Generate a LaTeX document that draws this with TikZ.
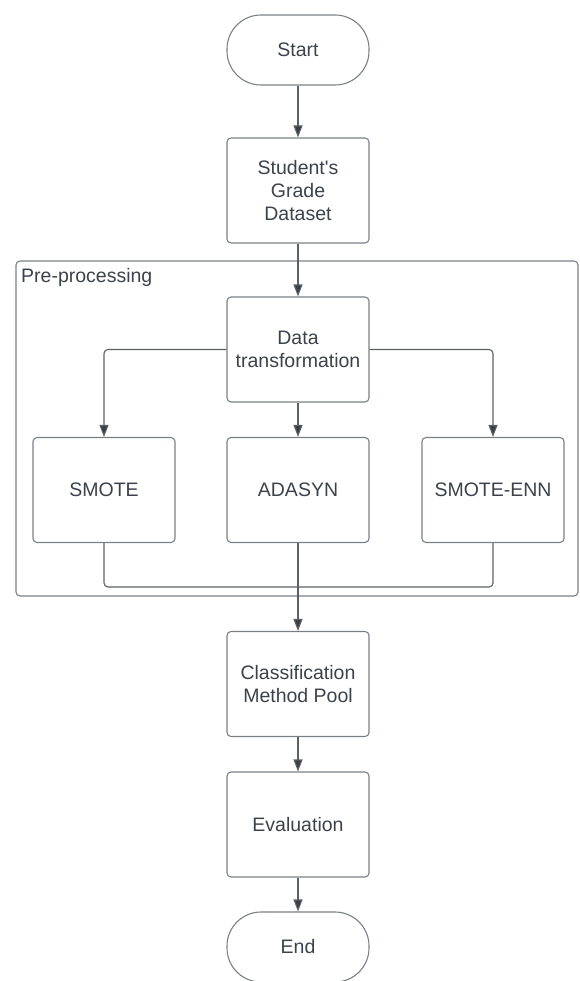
\documentclass[tikz,border=0pt]{standalone}
\usepackage{fontspec}
\setmainfont{Liberation Sans}
\usepackage{xcolor}
\usepackage{tikz}
\usetikzlibrary{arrows.meta, positioning}
\definecolor{BoxGray}{HTML}{7B8086}
\definecolor{LineGray}{HTML}{5C6168}
\definecolor{TipDark}{HTML}{3A3F47}
\definecolor{TextDark}{HTML}{3C424B}

\begin{document}
\begin{tikzpicture}[x=1pt, y=-1pt,
    every node/.style={font=\fontsize{19.5}{23}\selectfont, text=TextDark},
    procbox/.style={draw=BoxGray, line width=1.1pt, rounded corners=4pt,
      minimum width=142pt, minimum height=105pt, align=center, inner sep=0pt},
    termbox/.style={draw=BoxGray, line width=1.1pt, rounded corners=34pt,
      minimum width=142pt, minimum height=70pt, inner sep=0pt},
    flow/.style={draw=LineGray, line width=1.1pt,
      -{Triangle[length=12pt, width=9pt, fill=TipDark]}},
    link/.style={draw=LineGray, line width=1.1pt, rounded corners=4pt}]
  \useasboundingbox (0,0) rectangle (579,981);
  \clip (0,0) rectangle (579,981);
  % Pre-processing frame
  \draw[BoxGray, line width=1.1pt, rounded corners=4pt] (16,261) rectangle (578,596);
  \node[anchor=base west, inner sep=0pt] (prelabel) at (21,283) {Pre-processing};
  % Main column
  \node[termbox] (start) at (298,50) {Start};
  \node[procbox] (dataset) at (298,190.5) {Student\textquotesingle s\\Grade\\Dataset};
  \node[procbox] (transform) at (298,349.5) {Data\\transformation};
  % Oversampling branches
  \node[procbox] (smote) at (104,490) {SMOTE};
  \node[procbox] (adasyn) at (298,490) {ADASYN};
  \node[procbox] (smoteenn) at (493,490) {SMOTE-ENN};
  \node[procbox] (pool) at (298,684) {Classification\\Method Pool};
  \node[procbox] (evaluation) at (298,824.5) {Evaluation};
  \node[termbox] (stop) at (298,947) {End};
  \coordinate (merge) at (298,587);
  % Connectors
  \draw[flow] (start) -- (dataset);
  \draw[flow] (dataset) -- (transform);
  \draw[flow, rounded corners=4pt] (transform.west) -| (smote.north);
  \draw[flow, rounded corners=4pt] (transform.east) -| (smoteenn.north);
  \draw[flow] (transform) -- (adasyn);
  \draw[link] (smote.south) |- (merge);
  \draw[link] (smoteenn.south) |- (merge);
  \draw[flow] (adasyn) -- (pool);
  \draw[flow] (pool) -- (evaluation);
  \draw[flow] (evaluation) -- (stop);
\end{tikzpicture}
\end{document}
